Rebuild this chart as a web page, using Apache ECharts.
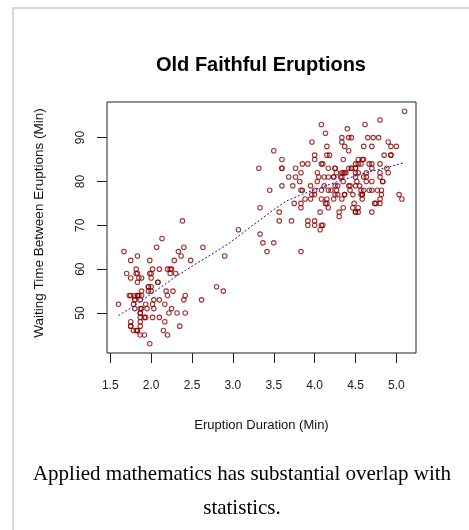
<!DOCTYPE html>
<html>
<head>
<meta charset="utf-8">
<title>Old Faithful Eruptions</title>
<script src="https://cdn.jsdelivr.net/npm/echarts@6/dist/echarts.min.js"></script>
<style>
  html, body { margin: 0; padding: 0; background: #fff; }
  #frame {
    position: absolute; left: 12px; top: 7px;
    width: 520px; height: 600px;
    border: 2px solid #d8d8d8;
  }
  #main { position: absolute; left: 0; top: 0; width: 469px; height: 530px; }
</style>
</head>
<body>
<div id="frame"></div>
<div id="main"></div>
<script>
// eruption duration (min) and waiting time (min), one pair per eruption
var eruptions = [
  3.600,1.800,3.333,2.283,4.533,2.883,4.700,3.600,1.950,4.350,
  1.833,3.917,4.200,1.750,4.700,2.167,1.750,4.800,1.600,4.250,
  1.800,1.750,3.450,3.067,4.533,3.600,1.967,4.083,3.850,4.433,
  4.300,4.467,3.367,4.033,3.833,2.017,1.867,4.833,1.833,4.783,
  4.350,1.883,4.567,1.750,4.533,3.317,3.833,2.100,4.633,2.000,
  4.800,4.716,1.833,4.833,1.733,4.883,3.717,1.667,4.567,4.317,
  2.233,4.500,1.750,4.800,1.817,4.400,4.167,4.700,2.067,4.700,
  4.033,1.967,4.500,4.000,1.983,5.067,2.017,4.567,3.883,3.600,
  4.133,4.333,4.100,2.633,4.067,4.933,3.950,4.517,2.167,4.000,
  2.200,4.333,1.867,4.817,1.833,4.300,4.667,3.750,1.867,4.900,
  2.483,4.367,2.100,4.500,4.050,1.867,4.700,1.783,4.850,3.683,
  4.733,2.300,4.900,4.417,1.700,4.633,2.317,4.600,1.817,4.417,
  2.617,4.067,4.250,1.967,4.600,3.767,1.917,4.500,2.267,4.650,
  1.867,4.167,2.800,4.333,1.833,4.383,1.883,4.933,2.033,3.733,
  4.233,2.233,4.533,4.817,4.333,1.983,4.633,2.017,5.100,1.800,
  5.033,4.000,2.400,4.600,3.567,4.000,4.500,4.083,1.800,3.967,
  2.200,4.150,2.000,3.833,3.500,4.583,2.367,5.000,1.933,4.617,
  1.917,2.083,4.583,3.333,4.167,4.333,4.500,2.417,4.000,4.167,
  1.883,4.583,4.250,3.767,2.033,4.433,4.083,1.833,4.417,2.183,
  4.800,1.833,4.800,4.100,3.966,4.233,3.500,4.366,2.250,4.667,
  2.100,4.350,4.133,1.867,4.600,1.783,4.367,3.850,1.933,4.500,
  2.383,4.700,1.867,3.833,3.417,4.233,2.400,4.800,2.000,4.150,
  1.867,4.267,1.750,4.483,4.000,4.117,4.083,4.267,3.917,4.550,
  4.083,2.417,4.183,2.217,4.450,1.883,1.850,4.283,3.950,2.333,
  4.150,2.350,4.933,2.900,4.583,3.833,2.083,4.367,2.133,4.350,
  2.200,4.450,3.567,4.500,4.150,3.817,3.917,4.450,2.000,4.283,
  4.767,4.533,1.850,4.250,1.983,2.250,4.750,4.117,2.150,4.417,
  1.817,4.467
];
var waiting = [
  79,54,74,62,85,55,88,85,51,85,
  54,84,78,47,83,52,62,84,52,79,
  51,47,78,69,74,83,55,76,78,79,
  73,77,66,80,74,52,48,80,59,90,
  80,58,84,58,73,83,64,53,82,59,
  75,90,54,80,54,83,71,64,77,81,
  59,84,48,82,60,92,78,78,65,73,
  82,56,79,71,62,76,60,78,76,83,
  75,82,70,65,73,88,76,80,48,86,
  60,90,50,78,63,72,84,75,51,82,
  62,88,49,83,81,47,84,52,86,81,
  75,59,89,79,59,81,50,85,59,87,
  53,69,77,56,88,81,45,82,55,90,
  45,83,56,89,46,82,51,86,53,79,
  81,60,82,77,76,59,80,49,96,53,
  77,77,65,81,71,70,81,93,53,89,
  45,86,58,78,66,76,63,88,52,93,
  49,57,77,68,81,81,73,50,85,74,
  55,77,83,83,51,78,84,46,83,55,
  81,57,76,84,77,81,87,77,51,78,
  60,82,91,53,78,46,77,84,49,83,
  71,80,49,75,64,76,53,94,55,76,
  50,82,54,75,78,79,78,78,70,79,
  70,54,86,50,90,54,54,77,79,64,
  75,47,86,63,85,82,57,82,67,74,
  54,83,73,73,88,80,71,83,56,79,
  78,84,58,83,43,60,75,81,46,90,
  46,74
];

// smoothed trend
var trendX = [1.6, 1.78, 2.02, 2.31, 2.51, 2.69, 2.96, 3.2, 3.45, 3.65, 3.92, 4.3, 4.63, 4.87, 5.1];
var trendY = [49.4, 51.5, 54.6, 58.4, 60.8, 62.8, 66.0, 69.4, 72.9, 75.5, 77.6, 80.1, 82.0, 83.1, 84.3];

var xTicks = [1.5, 2.0, 2.5, 3.0, 3.5, 4.0, 4.5, 5.0];
var yTicks = [50, 60, 70, 80, 90];

var points = [];
for (var i = 0; i < eruptions.length; i++) {
  points.push([eruptions[i], waiting[i]]);
}
var trend = [];
for (var j = 0; j < trendX.length; j++) {
  trend.push([trendX[j], trendY[j]]);
}

var font = 'Liberation Sans, Arial, sans-serif';
var myChart = echarts.init(document.getElementById('main'), null, { renderer: 'canvas' });

var option = {
  animation: false,
  title: {
    text: 'Old Faithful Eruptions',
    left: 256,
    textAlign: 'center',
    top: 50,
    textStyle: { fontFamily: font, fontSize: 20, fontWeight: 'bold', color: '#000' }
  },
  grid: {
    left: 107, top: 102, width: 309, height: 251,
    show: true, borderColor: '#222', borderWidth: 1, backgroundColor: 'transparent'
  },
  xAxis: {
    type: 'value',
    min: 1.46, max: 5.24,
    name: 'Eruption Duration (Min)',
    nameLocation: 'middle',
    nameGap: 66,
    nameTextStyle: { fontFamily: font, fontSize: 13, color: '#111' },
    axisLine: { show: false },
    splitLine: { show: false },
    axisTick: { show: true, length: 10, customValues: xTicks, lineStyle: { color: '#222', width: 1 } },
    axisLabel: {
      customValues: xTicks, margin: 27,
      fontFamily: font, fontSize: 12, color: '#222',
      formatter: function (v) { return v.toFixed(1); }
    }
  },
  yAxis: {
    type: 'value',
    min: 40.88, max: 98.12,
    name: 'Waiting Time Between Eruptions (Min)',
    nameLocation: 'middle',
    nameGap: 61,
    nameRotate: 90,
    nameTextStyle: { fontFamily: font, fontSize: 13.5, color: '#111', padding: [0, 0, 0, 9] },
    axisLine: { show: false },
    splitLine: { show: false },
    axisTick: { show: true, length: 10, customValues: yTicks, lineStyle: { color: '#222', width: 1 } },
    axisLabel: {
      customValues: yTicks, margin: 20, rotate: 90,
      fontFamily: font, fontSize: 12, color: '#222'
    }
  },
  series: [
    {
      name: 'eruptions',
      type: 'scatter',
      data: points,
      symbol: 'circle',
      symbolSize: 4.5,
      itemStyle: { color: 'rgba(0,0,0,0)', borderColor: '#8b0000', borderWidth: 1.1 }
    },
    {
      name: 'trend',
      type: 'line',
      data: trend,
      showSymbol: false,
      lineStyle: { color: '#1010c0', width: 1, type: [2, 2] }
    }
  ],
  graphic: [
    {
      type: 'text',
      x: 242, y: 491,
      style: {
        text: 'Applied mathematics has substantial overlap with\nstatistics.',
        font: '21px "Liberation Serif", "Times New Roman", serif',
        fill: '#000',
        align: 'center',
        verticalAlign: 'middle',
        lineHeight: 34
      }
    }
  ]
};

myChart.setOption(option);
</script>
</body>
</html>
